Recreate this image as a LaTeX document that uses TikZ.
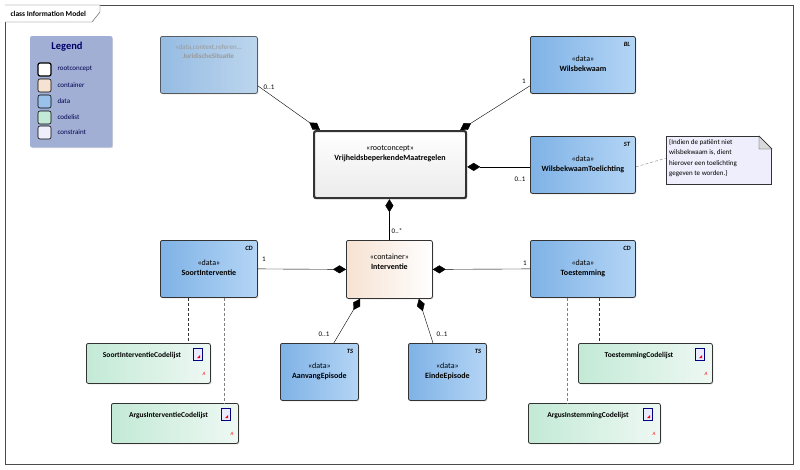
\documentclass[tikz,border=0pt]{standalone}
\usepackage{fontspec}
\setmainfont{Carlito}
\usetikzlibrary{arrows.meta,shapes,shadows,positioning}
\definecolor{datal}{HTML}{7FB2E6}
\definecolor{datar}{HTML}{B4D5F5}
\definecolor{codel}{HTML}{C3EAD6}
\definecolor{coder}{HTML}{EEF8F3}
\definecolor{contl}{HTML}{F6E2D2}
\definecolor{legbg}{HTML}{A1AFD5}
\definecolor{notebg}{HTML}{EEEEFC}
\tikzstyle{cls}=[rectangle, draw=black!80, rounded corners=2pt, thick, anchor=north west,
        drop shadow={shadow xshift=1pt,shadow yshift=-1pt,opacity=0.3}, inner sep=0pt]
\tikzstyle{data}=[cls, left color=datal, right color=datar]
\tikzstyle{codelist}=[cls, left color=codel, right color=coder]
\tikzstyle{comp}=[black, -{Diamond[length=13pt,width=8pt]}]
\tikzstyle{mult}=[font=\fontsize{7}{8}\selectfont]
\tikzstyle{dep}=[densely dashed, black!80]

\begin{document}
\begin{tikzpicture}[x=1pt, y=-1pt, font=\fontsize{8}{10}\selectfont]
    \useasboundingbox (0,0) rectangle (800,469);
    % frame
    \draw[black!70] (5,5) rectangle (793,464);
    \draw[black!70, fill=white] (5,5) -- (100,5) -- (100,12) -- (92,22) -- (5,22);
    \node[anchor=west, font=\fontsize{7.5}{8}\selectfont\bfseries] (title) at (7,13.5) {class Information Model};

    % legend
    \node (Legend) [cls, thin, fill=legbg, draw=legbg, minimum width=82pt, minimum height=111pt] at (30,36) {};
    \node[text=blue!40!black, font=\fontsize{10.5}{11}\selectfont\bfseries] (legtitle) at (67,47) {Legend};
    \foreach \y/\c/\t/\w in {69/white/rootconcept/1.2pt, 85/contl/container/0.6pt, 101/datal!80/data/0.6pt,
                             117/codel/codelist/0.6pt, 132/notebg/constraint/0.6pt} {
        \draw[line width=\w, fill=\c, rounded corners=2pt] (38,\y-6) rectangle (51,\y+7);
        \node[anchor=west, text=blue!30!black, font=\fontsize{7}{8}\selectfont] at (54,\y) {\t};
    }

    % classes
    \node (Juridisch) [data, opacity=0.75, minimum width=97pt, minimum height=57pt] at (160,36) {};
    \node[text=black!40, align=center, font=\fontsize{7}{9}\selectfont] at (208.5,52)
        {«data,context,referen...\\\textbf{JuridischeSituatie}};

    \node (Wilsbekwaam) [data, minimum width=105pt, minimum height=57pt] at (530,36)
        {\begin{tabular}{c}«data»\\\textbf{Wilsbekwaam}\end{tabular}};
    \node[font=\fontsize{6.5}{7}\selectfont\itshape\bfseries] at (627,44) {BL};

    \node (Root) [cls, line width=2.2pt, top color=white, bottom color=black!8,
        minimum width=152pt, minimum height=67pt, text depth=30pt] at (313,130)
        {\begin{tabular}{c}«rootconcept»\\\textbf{VrijheidsbeperkendeMaatregelen}\end{tabular}};

    \node (Toelichting) [data, minimum width=105pt, minimum height=57pt] at (530,136)
        {\begin{tabular}{c}«data»\\\textbf{WilsbekwaamToelichting}\end{tabular}};
    \node[font=\fontsize{6.5}{7}\selectfont\itshape\bfseries] at (627,144) {ST};

    \node (Note) [draw=black!80, fill=notebg, shape=rectangle, anchor=north west, inner sep=0pt,
        minimum width=105pt, minimum height=48pt] at (666,136) {};
    \fill[white] (759,136) -- (772,136) -- (772,149) -- cycle;
    \draw[black!80, fill=black!15] (759,136) -- (759,149) -- (772,149) -- cycle;
    \draw[black!80] (759,136) -- (772,149);
    \node[anchor=north west, align=left, font=\fontsize{7}{10.5}\selectfont, inner sep=0pt]
        (notetext) at (669,139) {\{Indien de patiënt niet\\wilsbekwaam is, dient\\hierover een toelichting\\gegeven te worden.\}};

    \node (Interventie) [cls, left color=contl, right color=white, minimum width=86pt, minimum height=58pt,
        text depth=22pt] at (346,240)
        {\begin{tabular}{c}«container»\\\textbf{Interventie}\end{tabular}};

    \node (Soort) [data, minimum width=97pt, minimum height=57pt] at (160,240)
        {\begin{tabular}{c}«data»\\\textbf{SoortInterventie}\end{tabular}};
    \node[font=\fontsize{6.5}{7}\selectfont\itshape\bfseries] at (249,248) {CD};

    \node (Toestemming) [data, minimum width=105pt, minimum height=57pt] at (530,240)
        {\begin{tabular}{c}«data»\\\textbf{Toestemming}\end{tabular}};
    \node[font=\fontsize{6.5}{7}\selectfont\itshape\bfseries] at (627,248) {CD};

    \node (Aanvang) [data, minimum width=78pt, minimum height=57pt] at (280,343)
        {\begin{tabular}{c}«data»\\\textbf{AanvangEpisode}\end{tabular}};
    \node[font=\fontsize{6.5}{7}\selectfont\itshape\bfseries] at (350,351) {TS};

    \node (Einde) [data, minimum width=78pt, minimum height=57pt] at (408,343)
        {\begin{tabular}{c}«data»\\\textbf{EindeEpisode}\end{tabular}};
    \node[font=\fontsize{6.5}{7}\selectfont\itshape\bfseries] at (478,351) {TS};

    % codelists
    \foreach \n/\x/\y/\w/\t in {SoortCL/86/343/124/SoortInterventieCodelijst,
                                ArgusCL/111/403/127/ArgusInterventieCodelijst,
                                ToestCL/578/343/134/ToestemmingCodelijst,
                                InstemCL/528/403/132/ArgusInstemmingCodelijst} {
        \node (\n) [codelist, minimum width=\w pt, minimum height=40pt] at (\x,\y) {};
        \node[font=\fontsize{7.5}{8}\selectfont\bfseries] at (\x+\w/2-6,\y+12) {\t};
        \draw[blue!50!black, fill=blue!8] (\x+\w-17,\y+5) rectangle (\x+\w-8,\y+17);
        \fill[red] (\x+\w-10,\y+15) -- (\x+\w-13,\y+15) -- (\x+\w-10,\y+12) -- cycle;
        \node[text=red, font=\fontsize{5}{5}\selectfont\itshape] at (\x+\w-6,\y+31) {A};
    }

    % connectors
    \draw[comp] (Juridisch.south east) ++(0,-8) coordinate (j1) (j1) -- ([xshift=7pt]Root.north west);
    \node[mult] at (269,87) {0..1};
    \draw[comp] ([yshift=8pt]Wilsbekwaam.south west) -- ([xshift=-7pt]Root.north east);
    \node[mult] at (524,81) {1};
    \draw[comp] (Toelichting.west) ++(0,2) coordinate (t1) (t1) -- (Root.east |- t1);
    \node[mult] at (520,179) {0..1};
    \draw[comp] (Interventie.north) -- (Root.south -| Interventie.north);
    \node[mult] at (397,231) {0..*};
    \draw[comp] (Soort.east) -- (Interventie.west);
    \node[mult] at (264,259) {1};
    \draw[comp] (Toestemming.west) -- (Interventie.east);
    \node[mult] at (525,263) {1};
    \draw[comp] ([xshift=-25pt]Aanvang.north east) -- ([xshift=14pt]Interventie.south west);
    \node[mult] at (324,334) {0..1};
    \draw[comp] ([xshift=25pt]Einde.north west) -- ([xshift=-14pt]Interventie.south east);
    \node[mult] at (442,334) {0..1};

    \draw[dep] ([xshift=28pt]Soort.south west) -- ([xshift=28pt]Soort.south west |- SoortCL.north);
    \draw[dep, gray, thick] ([xshift=-33pt]Soort.south east) -- ([xshift=-33pt]Soort.south east |- ArgusCL.north);
    \draw[dep] ([xshift=-37pt]Toestemming.south east) -- ([xshift=-37pt]Toestemming.south east |- ToestCL.north);
    \draw[dep, gray, thick] ([xshift=37pt]Toestemming.south west) -- ([xshift=37pt]Toestemming.south west |- InstemCL.north);
    \draw[dep, gray] ([yshift=-2pt]Toelichting.east) -- (Note.west |- notetext.west);
\end{tikzpicture}
\end{document}
